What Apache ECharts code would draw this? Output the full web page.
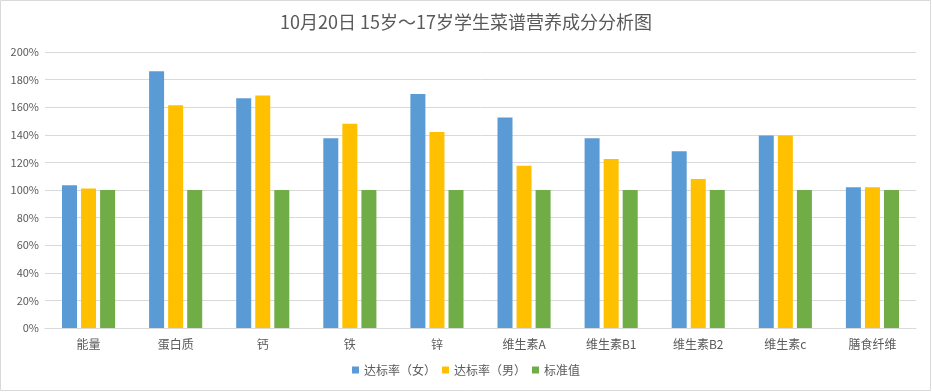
<!DOCTYPE html>
<html>
<head>
<meta charset="utf-8">
<script src="https://cdn.jsdelivr.net/npm/echarts@6/dist/echarts.min.js"></script>
<style>
html,body{margin:0;padding:0;background:#fff;}
#main{width:932px;height:392px;}
</style>
</head>
<body>
<div id="main"></div>
<script>
var categories = ['能量','蛋白质','钙','铁','锌','维生素A','维生素B1','维生素B2','维生素c','膳食纤维'];
var femaleRate = [103.5, 186, 166.5, 137.5, 169.5, 152.5, 137.5, 128, 139.5, 102];
var maleRate = [101, 161.5, 168.5, 148, 142, 117.5, 122.5, 108, 139.5, 102];
var standard = [100, 100, 100, 100, 100, 100, 100, 100, 100, 100];
var seriesNames = ['达标率（女）','达标率（男）','标准值'];
var yTicks = {min: 0, max: 200, interval: 20};

var font = '"Microsoft YaHei","Noto Sans CJK SC",sans-serif';
var chart = echarts.init(document.getElementById('main'), null, {renderer: 'canvas'});
chart.setOption({
  backgroundColor: '#fff',
  animation: false,
  title: {
    text: '10月20日 15岁～17岁学生菜谱营养成分分析图',
    left: 'center',
    top: 8,
    textStyle: {color: '#595959', fontSize: 18, fontWeight: 'normal', fontFamily: font}
  },
  legend: {
    data: seriesNames,
    bottom: 11,
    left: 'center',
    itemWidth: 7,
    itemHeight: 7,
    itemGap: 6,
    icon: 'rect',
    textStyle: {color: '#595959', fontSize: 12, fontFamily: font}
  },
  grid: {left: 45, right: 16, top: 52, bottom: 64, containLabel: false},
  xAxis: {
    type: 'category',
    data: categories,
    axisLine: {lineStyle: {color: '#d9d9d9'}},
    axisTick: {show: false},
    axisLabel: {color: '#595959', fontSize: 12, margin: 10, fontFamily: font}
  },
  yAxis: {
    type: 'value',
    min: yTicks.min,
    max: yTicks.max,
    interval: yTicks.interval,
    axisLine: {show: false},
    axisTick: {show: false},
    axisLabel: {color: '#595959', fontSize: 11, margin: 6, formatter: '{value}%', fontFamily: font},
    splitLine: {lineStyle: {color: '#d9d9d9', width: 1}}
  },
  series: [
    {name: seriesNames[0], type: 'bar', data: femaleRate, barWidth: 15, barGap: '27%', itemStyle: {color: '#5b9bd5'}},
    {name: seriesNames[1], type: 'bar', data: maleRate, barWidth: 15, barGap: '27%', itemStyle: {color: '#ffc000'}},
    {name: seriesNames[2], type: 'bar', data: standard, barWidth: 15, barGap: '27%', itemStyle: {color: '#70ad47'}}
  ],
  graphic: [{
    type: 'rect',
    shape: {x: 0.5, y: 0.5, width: 930, height: 390},
    style: {fill: 'none', stroke: '#d9d9d9', lineWidth: 1},
    silent: true
  }]
});
</script>
</body>
</html>
